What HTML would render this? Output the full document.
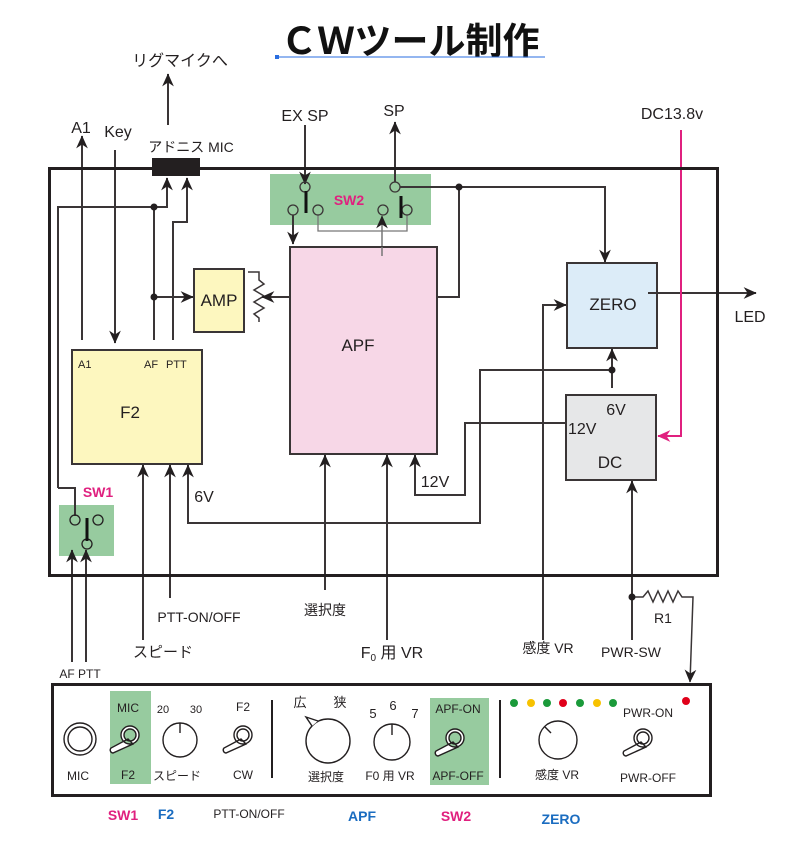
<!DOCTYPE html>
<html><head><meta charset="utf-8"><style>
html,body{margin:0;padding:0;background:#fff}
svg{display:block}
text{font-family:"Liberation Sans","Noto Sans CJK JP",sans-serif;fill:#231f20}
</style></head><body>
<svg width="785" height="847" viewBox="0 0 785 847" xmlns="http://www.w3.org/2000/svg">
<defs>
<marker id="a" viewBox="0 0 10 10" refX="9.5" refY="5" markerWidth="13" markerHeight="13" markerUnits="userSpaceOnUse" orient="auto"><path d="M0,0.5 L10,5 L0,9.5 L3,5z" fill="#231f20"/></marker>
<marker id="p" viewBox="0 0 10 10" refX="9.5" refY="5" markerWidth="13" markerHeight="13" markerUnits="userSpaceOnUse" orient="auto"><path d="M0,0.5 L10,5 L0,9.5 L3,5z" fill="#e0207f"/></marker>
</defs>
<text x="410" y="54" font-size="37" font-weight="bold" text-anchor="middle" style="fill:#111">ＣＷツール制作</text>
<line x1="277" y1="57" x2="545" y2="57" stroke="#2a6ee0" stroke-width="1"/>
<rect x="275" y="55" width="4" height="4" fill="#2a6ee0"/>

<rect x="270" y="174" width="161" height="51" fill="#97cb9f"/>
<rect x="59" y="505" width="55" height="51" fill="#97cb9f"/>

<g stroke="#3a3536" stroke-width="2" fill="none">
<line x1="168" y1="125" x2="168" y2="74" marker-end="url(#a)"/>
<line x1="82" y1="340" x2="82" y2="136" marker-end="url(#a)"/>
<line x1="115" y1="150" x2="115" y2="343" marker-end="url(#a)"/>
<polyline points="58,488 58,207 167,207 167,178" marker-end="url(#a)"/>
<polyline points="58,488 75,488 75,516"/>
<line x1="154" y1="207" x2="154" y2="340"/>
<line x1="154" y1="297" x2="193" y2="297" marker-end="url(#a)"/>
<polyline points="173,340 173,222 187,222 187,178" marker-end="url(#a)"/>
<polyline points="248,272 259,272 259,280 264,284 254,290 264,296 254,302 264,308 254,314 259,318 259,322" stroke-width="1.5"/>
<polyline points="459,187 459,297 262,297" marker-end="url(#a)"/>
<line x1="305" y1="125" x2="305" y2="184" marker-end="url(#a)"/>
<line x1="293" y1="215" x2="293" y2="244" marker-end="url(#a)"/>
<line x1="395" y1="182" x2="395" y2="122" marker-end="url(#a)"/>
<polyline points="400,187 605,187 605,262" marker-end="url(#a)"/>
<line x1="143" y1="640" x2="143" y2="465" marker-end="url(#a)"/>
<line x1="170" y1="598" x2="170" y2="465" marker-end="url(#a)"/>
<polyline points="612,370 480,370 480,523 188,523 188,465" marker-end="url(#a)"/>
<line x1="325" y1="590" x2="325" y2="455" marker-end="url(#a)"/>
<line x1="387" y1="640" x2="387" y2="455" marker-end="url(#a)"/>
<polyline points="567,423 465,423 465,495 415,495 415,455" marker-end="url(#a)"/>
<polyline points="543,640 543,305 566,305" marker-end="url(#a)"/>
<line x1="648" y1="293" x2="756" y2="293" marker-end="url(#a)"/>
<polyline points="612,388 612,349" marker-end="url(#a)"/>
<line x1="632" y1="640" x2="632" y2="481" marker-end="url(#a)"/>
<polyline points="632,597 643,597 648,591 653,602 658,591 663,602 668,591 673,602 678,591 682,597 693,597 690,682" stroke-width="1.5" marker-end="url(#a)"/>
<line x1="72" y1="662" x2="72" y2="550" marker-end="url(#a)"/>
<line x1="86" y1="662" x2="86" y2="550" marker-end="url(#a)"/>
</g>
<polyline points="681,130 681,436 658,436" fill="none" stroke="#e0207f" stroke-width="2" marker-end="url(#p)"/>

<rect x="49.5" y="168.5" width="668" height="407" fill="none" stroke="#231f20" stroke-width="3"/>
<rect x="152" y="158" width="48" height="18" fill="#231f20"/>

<g stroke="#3a3536" stroke-width="1.3" fill="none">
<polyline points="318,215 318,231 407,231 407,215" stroke="#777"/>
<circle cx="305" cy="187" r="5"/><circle cx="293" cy="210" r="5"/><circle cx="318" cy="210" r="5"/>
<circle cx="395" cy="187" r="5"/><circle cx="383" cy="210" r="5"/><circle cx="407" cy="210" r="5"/>
</g>
<line x1="382" y1="256" x2="382" y2="216" stroke="#777" stroke-width="1.5" marker-end="url(#a)"/>
<line x1="306" y1="191" x2="306" y2="213" stroke="#111" stroke-width="3"/>
<line x1="401" y1="196" x2="401" y2="218" stroke="#111" stroke-width="3"/>
<text x="349" y="205" font-size="14" font-weight="bold" text-anchor="middle" style="fill:#e0207f">SW2</text>

<rect x="194" y="269" width="50" height="63" fill="#fdf7bf" stroke="#3a3536" stroke-width="2"/>
<text x="219" y="306" font-size="17" text-anchor="middle">AMP</text>
<rect x="72" y="350" width="130" height="114" fill="#fdf7bf" stroke="#3a3536" stroke-width="2"/>
<text x="78" y="368" font-size="11">A1</text>
<text x="144" y="368" font-size="11">AF</text><text x="166" y="368" font-size="11">PTT</text>
<text x="130" y="418" font-size="17" text-anchor="middle">F2</text>
<rect x="290" y="247" width="147" height="207" fill="#f7d7e7" stroke="#3a3536" stroke-width="2"/>
<line x1="382" y1="247" x2="382" y2="256" stroke="#777" stroke-width="1.5"/>
<text x="358" y="351" font-size="17" text-anchor="middle">APF</text>
<rect x="567" y="263" width="90" height="85" fill="#dcecf8" stroke="#3a3536" stroke-width="2"/>
<line x1="648" y1="293" x2="657" y2="293" stroke="#3a3536" stroke-width="2"/>
<text x="613" y="310" font-size="17" text-anchor="middle">ZERO</text>
<rect x="566" y="395" width="90" height="85" fill="#e6e7e8" stroke="#3a3536" stroke-width="2"/>
<text x="616" y="415" font-size="16" text-anchor="middle">6V</text>
<text x="568" y="434" font-size="16">12V</text>
<text x="610" y="468" font-size="17" text-anchor="middle">DC</text>

<g stroke="#231f20" stroke-width="1.3" fill="none">
<circle cx="75" cy="520" r="5"/><circle cx="98" cy="520" r="5"/><circle cx="87" cy="544" r="5"/>
</g>
<line x1="87" y1="518" x2="87" y2="541" stroke="#111" stroke-width="3"/>
<text x="98" y="497" font-size="14" font-weight="bold" text-anchor="middle" style="fill:#e0207f">SW1</text>

<g fill="#231f20">
<circle cx="154" cy="207" r="3.5"/><circle cx="154" cy="297" r="3.5"/>
<circle cx="459" cy="187" r="3.5"/><circle cx="612" cy="370" r="3.5"/><circle cx="632" cy="597" r="3.5"/>
</g>

<g font-size="16">
<text x="180" y="66" text-anchor="middle">リグマイクへ</text>
<text x="81" y="133" text-anchor="middle">A1</text>
<text x="118" y="137" text-anchor="middle">Key</text>
<text x="191" y="152" text-anchor="middle" font-size="14">アドニス MIC</text>
<text x="305" y="121" text-anchor="middle">EX SP</text>
<text x="394" y="116" text-anchor="middle">SP</text>
<text x="672" y="119" text-anchor="middle">DC13.8v</text>
<text x="750" y="322" text-anchor="middle">LED</text>
<text x="204" y="502" text-anchor="middle">6V</text>
<text x="435" y="487" text-anchor="middle">12V</text>
<text x="663" y="623" text-anchor="middle" font-size="14">R1</text>
<text x="199" y="622" text-anchor="middle" font-size="14">PTT-ON/OFF</text>
<text x="325" y="615" text-anchor="middle" font-size="14">選択度</text>
<text x="163" y="657" text-anchor="middle" font-size="15">スピード</text>
<text x="392" y="658" text-anchor="middle">F<tspan font-size="10" dy="3">0</tspan><tspan dy="-3"> 用 VR</tspan></text>
<text x="548" y="653" text-anchor="middle" font-size="14">感度 VR</text>
<text x="631" y="657" text-anchor="middle" font-size="14">PWR-SW</text>
<text x="80" y="678" text-anchor="middle" font-size="12">AF  PTT</text>
</g>

<rect x="52.5" y="684.5" width="658" height="111" fill="none" stroke="#231f20" stroke-width="3"/>
<rect x="110" y="691" width="41" height="93" fill="#97cb9f"/>
<rect x="430" y="698" width="59" height="87" fill="#97cb9f"/>
<g stroke="#231f20" stroke-width="1.4" fill="none">
<circle cx="80" cy="739" r="16"/><circle cx="80" cy="739" r="12"/>
<circle cx="180" cy="740" r="17"/><line x1="180" y1="723" x2="180" y2="733"/>
<circle cx="328" cy="741" r="22"/>
<circle cx="392" cy="742" r="18"/><line x1="392" y1="724" x2="392" y2="735"/>
<circle cx="558" cy="740" r="19"/><line x1="545" y1="727" x2="551" y2="733"/>
<line x1="272" y1="700" x2="272" y2="778" stroke-width="2"/>
<line x1="500" y1="700" x2="500" y2="778" stroke-width="2"/>
</g>
<path d="M312,726 L306,717 L318,721" fill="#fff" stroke="#231f20" stroke-width="1.4"/>
<g stroke="#231f20" stroke-width="1.4" fill="#fff">
<path id="tg" d="M-2,4 L-19,13 A3,3 0 0 0 -17,18 L3,9 Z M0,-9 A9,9 0 1 1 0,9 A9,9 0 1 1 0,-9 Z M0,-6 A6,6 0 1 0 0,6 A6,6 0 1 0 0,-6Z" transform="translate(130,735)"/>
<use href="#tg" transform="translate(113,0)"/>
<use href="#tg" transform="translate(325,3)"/>
<use href="#tg" transform="translate(513,3)"/>
</g>
<g font-size="12" text-anchor="middle">
<text x="128" y="712">MIC</text><text x="128" y="779">F2</text>
<text x="78" y="780">MIC</text>
<text x="163" y="713" font-size="11">20</text><text x="196" y="713" font-size="11">30</text>
<text x="177" y="780">スピード</text>
<text x="243" y="711">F2</text><text x="243" y="779">CW</text>
<text x="300" y="707" font-size="13">広</text><text x="340" y="707" font-size="13">狭</text>
<text x="326" y="781">選択度</text>
<text x="373" y="718" font-size="13">5</text><text x="393" y="710" font-size="13">6</text><text x="415" y="718" font-size="13">7</text>
<text x="390" y="780">F0 用 VR</text>
<text x="458" y="713">APF-ON</text><text x="458" y="780">APF-OFF</text>
<text x="557" y="779">感度 VR</text>
<text x="648" y="717">PWR-ON</text><text x="648" y="782">PWR-OFF</text>
</g>
<g>
<circle cx="514" cy="703" r="4" fill="#1a9a3a"/><circle cx="531" cy="703" r="4" fill="#f7c200"/>
<circle cx="547" cy="703" r="4" fill="#1a9a3a"/><circle cx="563" cy="703" r="4" fill="#e0001a"/>
<circle cx="580" cy="703" r="4" fill="#1a9a3a"/><circle cx="597" cy="703" r="4" fill="#f7c200"/>
<circle cx="613" cy="703" r="4" fill="#1a9a3a"/><circle cx="686" cy="701" r="4" fill="#e0001a"/>
</g>
<g font-size="14" font-weight="bold" text-anchor="middle">
<text x="123" y="820" style="fill:#e0207f">SW1</text>
<text x="166" y="819" style="fill:#1a6cc0">F2</text>
<text x="249" y="818" font-weight="normal" font-size="12">PTT-ON/OFF</text>
<text x="362" y="821" style="fill:#1a6cc0">APF</text>
<text x="456" y="821" style="fill:#e0207f">SW2</text>
<text x="561" y="824" style="fill:#1a6cc0">ZERO</text>
</g>
</svg>
</body></html>
